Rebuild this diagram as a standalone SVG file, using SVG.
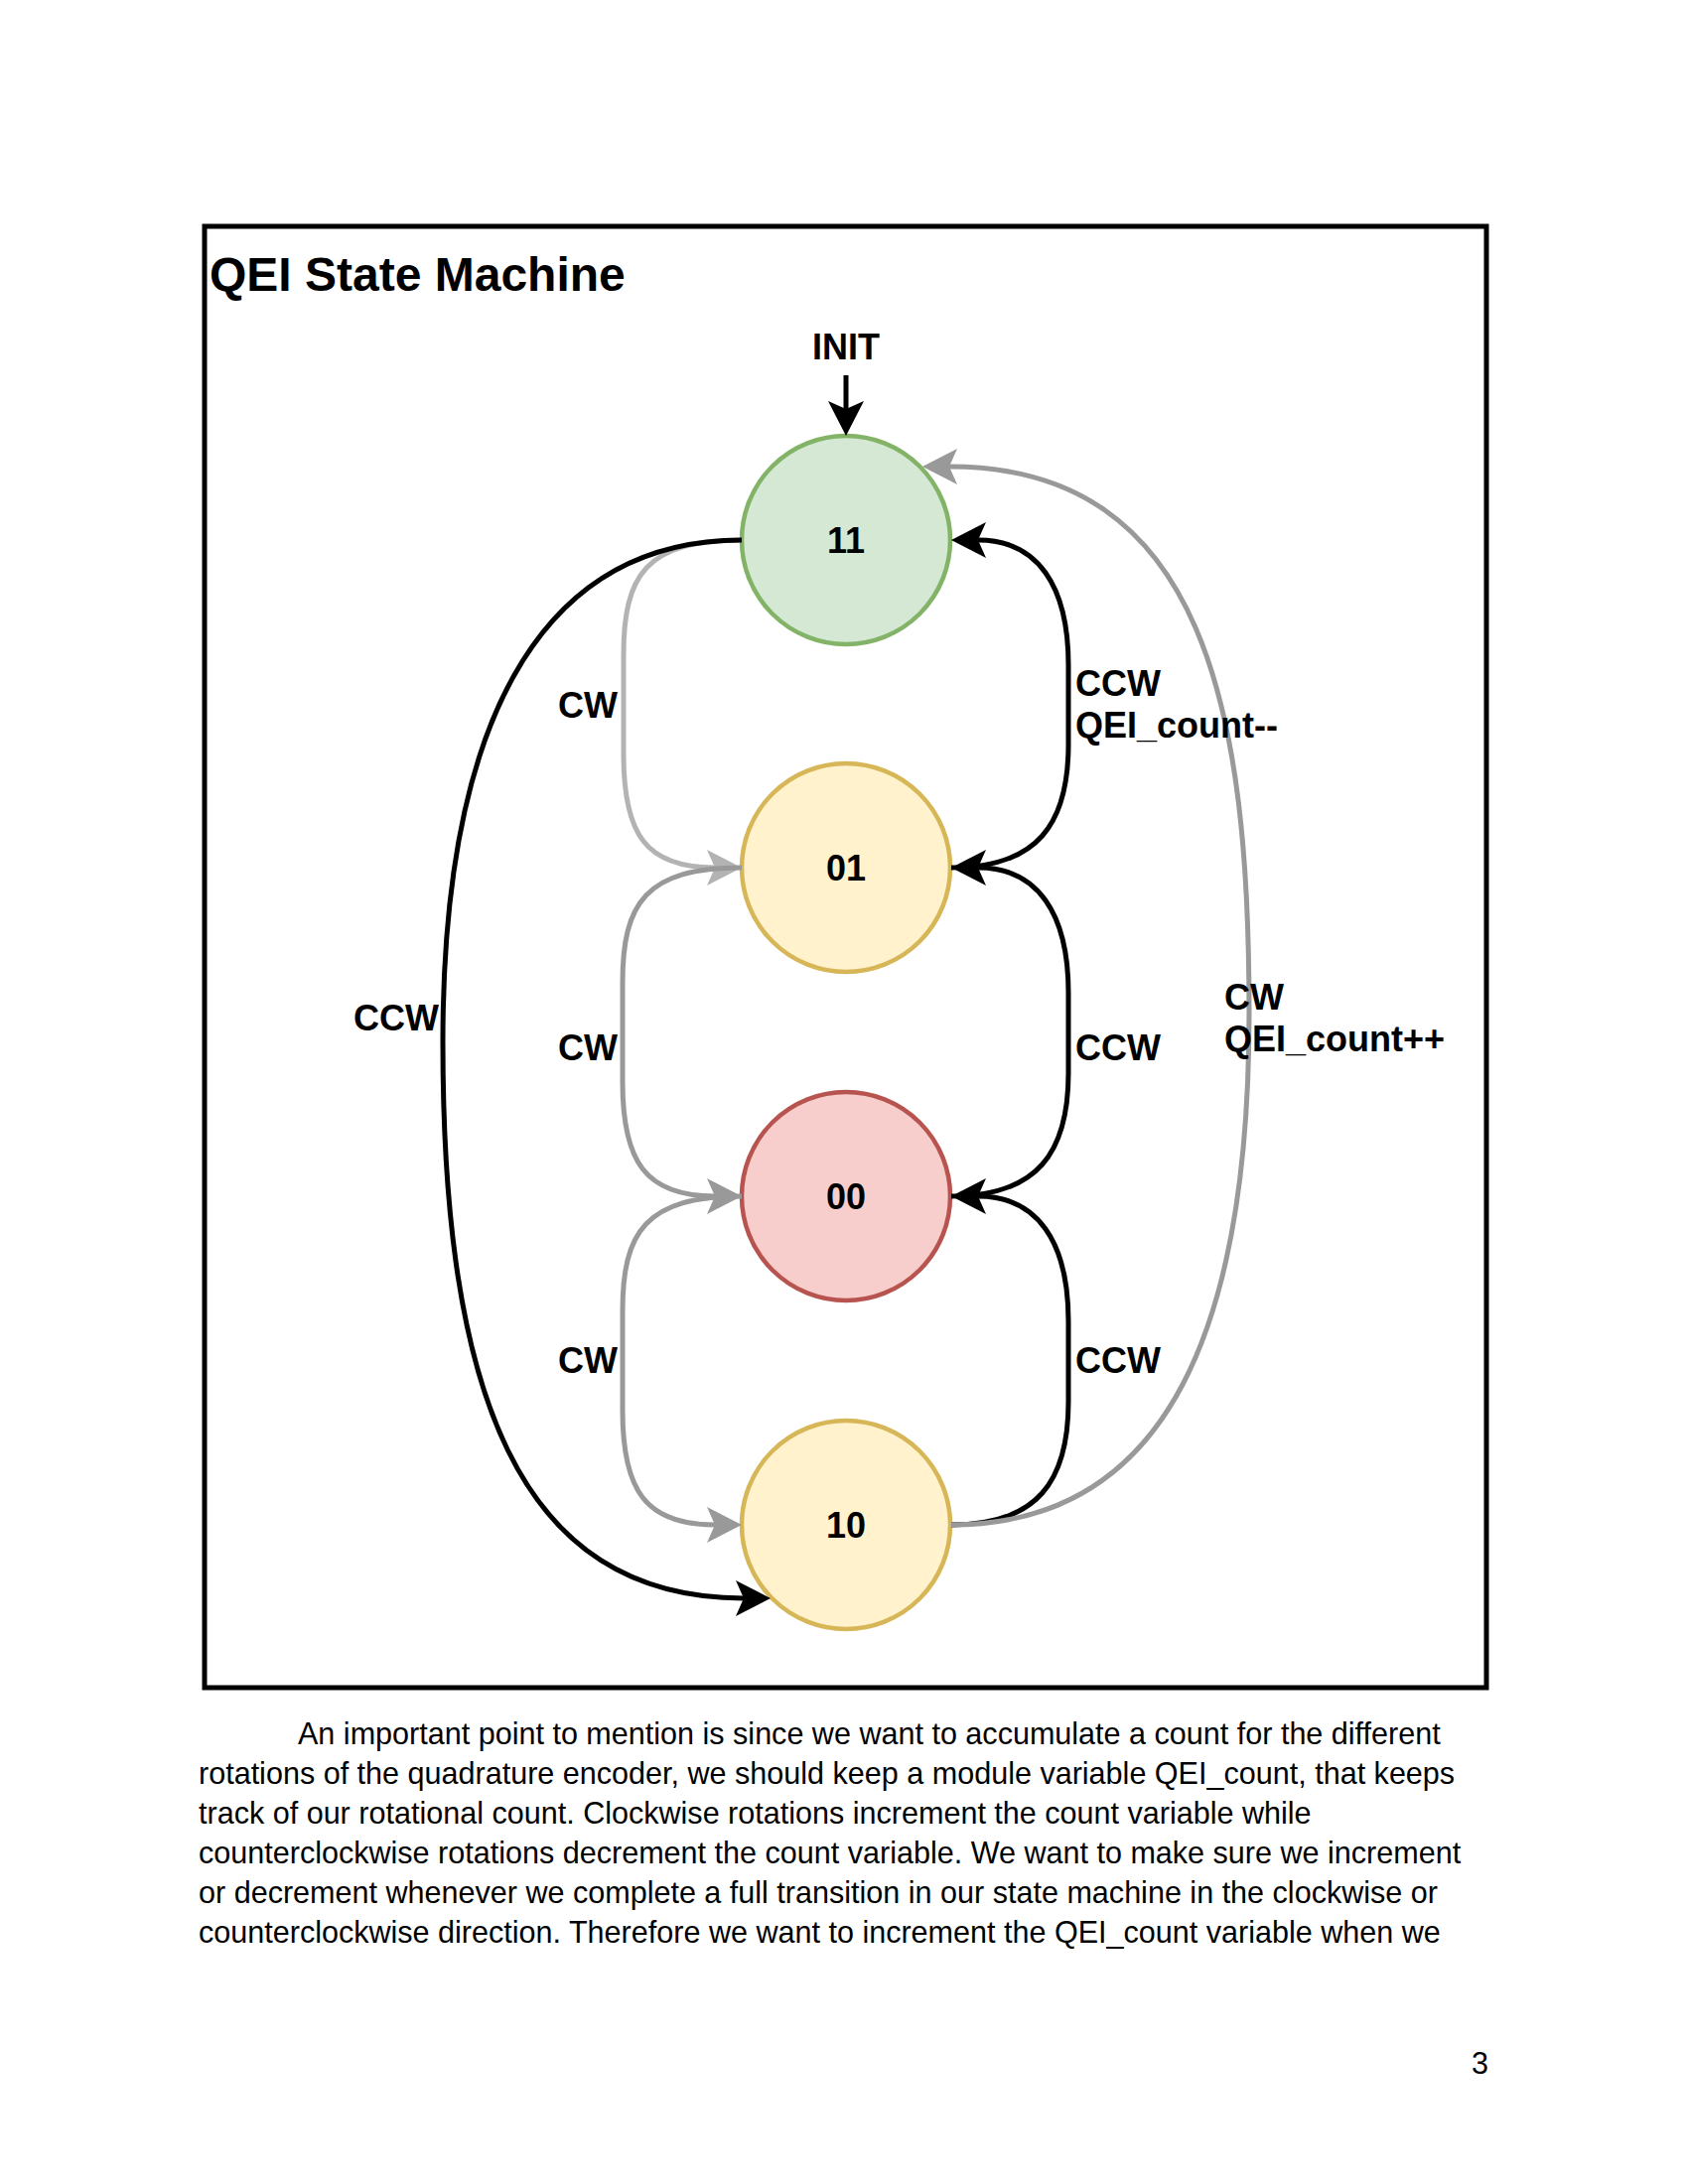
<svg xmlns="http://www.w3.org/2000/svg" width="1700" height="2200" viewBox="0 0 1700 2200">
<style>
.lbl{font-family:"Liberation Sans",Arial,sans-serif;font-weight:bold;font-size:36px;fill:#000}
.body{font-family:"Liberation Sans",Arial,sans-serif;font-size:30.56px;fill:#000}
.edge{fill:none;stroke-width:5}
.blk{stroke:#000}
.g1{stroke:#b3b3b3}
.g2{stroke:#999999}
.node{stroke-width:4.5}
</style>
<defs>
<marker id="aBlk" viewBox="-10 -20 40 40" refX="0" refY="0" markerWidth="40" markerHeight="40" markerUnits="userSpaceOnUse" orient="auto" overflow="visible"><path d="M27,0 L-8,-18 L0,0 L-8,18 Z" fill="#000"/></marker>
<marker id="aG1" viewBox="-10 -20 40 40" refX="0" refY="0" markerWidth="40" markerHeight="40" markerUnits="userSpaceOnUse" orient="auto" overflow="visible"><path d="M27,0 L-8,-18 L0,0 L-8,18 Z" fill="#b3b3b3"/></marker>
<marker id="aG2" viewBox="-10 -20 40 40" refX="0" refY="0" markerWidth="40" markerHeight="40" markerUnits="userSpaceOnUse" orient="auto" overflow="visible"><path d="M27,0 L-8,-18 L0,0 L-8,18 Z" fill="#999999"/></marker>
</defs>
<rect x="0" y="0" width="1700" height="2200" fill="#fff"/>
<g id="frame">
<rect x="206" y="228" width="1291" height="1472" fill="none" stroke="#000" stroke-width="5"/>
<text class="lbl" x="211" y="293" style="font-size:48px">QEI State Machine</text>
</g>
<g id="init">
<text class="lbl" x="852" y="362" text-anchor="middle">INIT</text>
</g>
<g id="node-11">
<circle class="node" cx="852" cy="544" r="105" fill="#d5e8d4" stroke="#82b366"/>
<text class="lbl" x="852" y="557" text-anchor="middle">11</text>
</g>
<g id="node-01">
<circle class="node" cx="852" cy="874" r="105" fill="#fff2cc" stroke="#d6b656"/>
<text class="lbl" x="852" y="887" text-anchor="middle">01</text>
</g>
<g id="node-00">
<circle class="node" cx="852" cy="1205" r="105" fill="#f8cecc" stroke="#b85450"/>
<text class="lbl" x="852" y="1218" text-anchor="middle">00</text>
</g>
<g id="node-10">
<circle class="node" cx="852" cy="1536" r="105" fill="#fff2cc" stroke="#d6b656"/>
<text class="lbl" x="852" y="1549" text-anchor="middle">10</text>
</g>
<g id="connectors">
<path class="edge blk" d="M852 378 L852 412" marker-end="url(#aBlk)"/>
<path class="edge g1" d="M747 544 C650 544 628 580 628 660 L628 760 C628 840 650 874 720 874" marker-end="url(#aG1)"/>
<path class="edge g2" d="M747 874 C650 874 627 910 627 990 L627 1090 C627 1170 650 1205 720 1205" marker-end="url(#aG2)"/>
<path class="edge g2" d="M747 1205 C650 1205 627 1241 627 1321 L627 1421 C627 1501 650 1536 720 1536" marker-end="url(#aG2)"/>
<path class="edge blk" d="M747 544 C560 544 446 700 446 1050 C446 1400 520 1610 749 1610" marker-end="url(#aBlk)"/>
<path class="edge blk" d="M958 874 C1045 874 1076 830 1076 750 L1076 670 C1076 590 1045 544 985 544" marker-end="url(#aBlk)"/>
<path class="edge blk" d="M958 1205 C1045 1205 1076 1161 1076 1081 L1076 1000 C1076 920 1045 874 985 874" marker-end="url(#aBlk)"/>
<path class="edge blk" d="M958 1536 C1045 1536 1076 1492 1076 1412 L1076 1331 C1076 1251 1045 1205 985 1205" marker-end="url(#aBlk)"/>
<path class="edge g2" d="M958 1536 C1180 1536 1258 1330 1258 1020 C1258 720 1215 470 956 470" marker-end="url(#aG2)"/>
<text class="lbl" x="622" y="723" text-anchor="end">CW</text>
<text class="lbl" x="622" y="1068" text-anchor="end">CW</text>
<text class="lbl" x="622" y="1383" text-anchor="end">CW</text>
<text class="lbl" x="442" y="1038" text-anchor="end">CCW</text>
<text class="lbl" x="1083" y="701">CCW</text>
<text class="lbl" x="1083" y="743">QEI_count--</text>
<text class="lbl" x="1083" y="1068">CCW</text>
<text class="lbl" x="1083" y="1383">CCW</text>
<text class="lbl" x="1233" y="1017">CW</text>
<text class="lbl" x="1233" y="1059">QEI_count++</text>
</g>
<g id="paragraph">
<text class="body" x="300" y="1757">An important point to mention is since we want to accumulate a count for the different</text>
<text class="body" x="200" y="1797">rotations of the quadrature encoder, we should keep a module variable QEI_count, that keeps</text>
<text class="body" x="200" y="1837">track of our rotational count. Clockwise rotations increment the count variable while</text>
<text class="body" x="200" y="1877">counterclockwise rotations decrement the count variable. We want to make sure we increment</text>
<text class="body" x="200" y="1917">or decrement whenever we complete a full transition in our state machine in the clockwise or</text>
<text class="body" x="200" y="1957">counterclockwise direction. Therefore we want to increment the QEI_count variable when we</text>
<text class="body" x="1499" y="2089" text-anchor="end">3</text>
</g>
</svg>
